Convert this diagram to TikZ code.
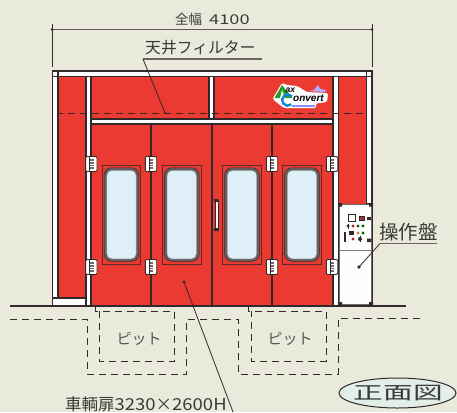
\documentclass[tikz,border=0pt]{standalone}
\usepackage{fontspec}
\setmainfont{Noto Sans CJK JP}
\newfontfamily\logofont{Liberation Sans}
\definecolor{bgc}{HTML}{E9E9DC}
\definecolor{redc}{HTML}{EB3A32}
\definecolor{ink}{HTML}{33292A}
\definecolor{txt}{HTML}{3C3A38}
\definecolor{glass}{HTML}{DFEFF8}
\definecolor{ovalc}{HTML}{E2EEE8}
\tikzset{
  line/.style={draw=ink,line width=1.1pt},
  redp/.style={fill=redc,draw=ink,line width=1.1pt},
  whitep/.style={fill=white,draw=ink,line width=1.1pt},
  lead/.style={draw=ink,line width=0.8pt},
  ulead/.style={draw=ink!70!bgc,line width=1.1pt},
  dashl/.style={draw=ink,line width=0.9pt,dash pattern=on 7pt off 5pt},
  label/.style={text=txt,inner sep=0pt,font=\fontsize{15}{15}\selectfont},
  logotext/.style={inner sep=0pt,anchor=west,text=black},
}
\newcommand{\hingeat}[2]{%
  \draw[fill=white,draw=ink,line width=0.9pt,rounded corners=1.2pt] (#1-5.7,#2-7.5) rectangle (#1+5.7,#2+7.5);
  \draw[draw=ink,line width=0.4pt] (#1-2.2,#2-7.5) -- (#1-2.2,#2+7.5);
  \foreach \d in {-4,-1.3,1.3,4} {\fill[ink!70] (#1-1.2,#2+\d-0.8) rectangle (#1+2.2,#2+\d+0.8);}
}
\newcommand{\windowat}[1]{%
  \draw[draw=ink!80!redc,line width=0.8pt] (#1-19.2,165.3) rectangle (#1+19.2,264.3);
  \draw[fill=ink!75!white,draw=ink,line width=0.5pt,rounded corners=7pt] (#1-17.3,167.8) rectangle (#1+17.3,261.3);
  \draw[fill=glass,draw=ink!40!white,line width=0.4pt,rounded corners=5pt] (#1-14.6,170.5) rectangle (#1+14.6,258.8);
}
\begin{document}
\begin{tikzpicture}[x=1pt,y=-1pt]
\useasboundingbox (0,0) rectangle (457,412);
\clip (0,0) rectangle (457,412);
\fill[bgc] (0,0) rectangle (457,412);

% frame
\draw[whitep] (52.5,71) rectangle (372,306);
\draw[redp] (58,76.5) rectangle (86,298);
\draw[redp] (91,76.5) rectangle (209,119);
\draw[redp] (214,76.5) rectangle (333,119);
\draw[redp] (338.5,76.5) rectangle (366.5,306);
\draw[whitep] (209,76.5) rectangle (214,119);
\draw[whitep] (86,76.5) rectangle (91,306);
\draw[whitep] (333,76.5) rectangle (338.5,306);
\draw[whitep] (366.5,76.5) rectangle (372,204);
\draw[whitep] (52.5,298) rectangle (86,306);
\draw[line] (52.5,71) rectangle (58,76.5);
\draw[line] (366.5,71) rectangle (372,76.5);
\draw[whitep] (91,119) rectangle (333,124);
% doors
\draw[redp] (91,124) rectangle (333,306);
\draw[line] (151,124) -- (151,306);
\draw[line] (212,124) -- (212,306);
\draw[line] (272,124) -- (272,306);
\windowat{121.5}\windowat{181.7}\windowat{242}\windowat{302}
\hingeat{91.3}{164}\hingeat{151}{164}\hingeat{272}{164}\hingeat{332}{164}
\hingeat{91.3}{267}\hingeat{151}{267}\hingeat{272}{267}\hingeat{332}{267}
% handle
\draw[fill=white,draw=ink,line width=0.8pt] (215.5,200) rectangle (218,230);
\fill[ink] (214.2,199) rectangle (218.6,202) (214.2,228) rectangle (218.6,231);
% filter dashed
\draw[dashl,dash phase=2pt] (58,113) -- (366,113);

% logo
\begin{scope}
\fill[white,rounded corners=1.5pt] (282,83) -- (272.5,99) -- (280,105) -- (284,108) -- (316,108) -- (316,103.5) -- (327,102) -- (328,93) -- (307,92) -- (297,86) -- (287,85) -- cycle;
\fill[green!55!black!85!white] (282,85) -- (274.5,98) -- (292,98) -- cycle;
\fill[white] (282,90) -- (280,98) -- (285,98) -- cycle;
\draw[cyan!70!blue,line width=2.4pt] (292,96.5) arc (-40:-310:5.6);
\fill[blue!30!white] (309,91) -- (314,90) -- (318,85) -- (320,89) -- (326,90) -- (324,92) -- cycle;
\node[logotext] (logoa) at (285.5,90) {\logofont\bfseries\itshape\fontsize{8.5}{8.5}\selectfont ax};
\node[logotext] (logob) at (293,98) {\logofont\bfseries\itshape\fontsize{10}{10}\selectfont onvert};
\fill[blue!45!white] (292,104.5) rectangle (315,106.5);
\end{scope}

% control panel
\draw[fill=white!96!bgc,draw=ink!70!white,line width=1.6pt] (339.5,204.5) rectangle (371.5,304.5);
\draw[draw=ink!60!white,line width=0.7pt] (339.5,250) -- (371.5,250);
\fill[ink] (338,203) rectangle (342,206.5) (369,203) rectangle (373,206.5)
           (338,302) rectangle (342,306) (369,302) rectangle (373,306);
\draw[fill=white,draw=ink,line width=0.7pt] (348,214) rectangle (355,221);
\draw[fill=redc!60!ink,draw=ink,line width=0.7pt] (359.5,216) rectangle (364,220.5);
\foreach \x/\c in {348/ink,353/redc!70!black,358/green!40!black,363/green!40!black}{\fill[\c] (\x,226) circle (1.7);}
\draw[line,line width=0.5pt] (348,223.5) -- (348,228.5);
\fill[ink] (348.5,231) rectangle (353.5,235);
\foreach \x/\c in {358/brown,363/green!40!black}{\fill[\c] (\x,233) circle (1.6);}
\fill[ink] (343.5,232) rectangle (345.5,242);
\fill[redc!70!black] (353,239) circle (1.6);
\fill[ink] (360,239) circle (2);
\draw[line,line width=0.5pt] (360,236) -- (360,242);
\fill[ink] (367,217) rectangle (371,220) (367,238.5) rectangle (371,242);

% ground
\draw[line] (10,306) -- (406,306);

% pits
\draw[dashl] (95.5,306) -- (95.5,311) -- (174,311) -- (174,361) -- (99,361) -- (99,311);
\draw[dashl] (248,306) -- (248,311) -- (326,311) -- (326,361) -- (251,361) -- (251,311);
\draw[dashl] (10,319) -- (87,319) -- (87,374) -- (186.5,374) -- (186.5,319) -- (238,319) -- (238,374) -- (338,374) -- (338,318) -- (423,318);
\node[label,text=txt!85!bgc,font=\fontsize{15}{15}\selectfont] (pita) at (139,339) {ピット};
\node[label,text=txt!85!bgc,font=\fontsize{15}{15}\selectfont] (pitb) at (290,339) {ピット};

% dimension
\coordinate (dl) at (52,29.5); \coordinate (dr) at (372,29.5);
\draw[draw=ink!75!bgc,line width=1.1pt] (dl) -- (dr);
\draw[lead] (52,24) -- (52,67);
\draw[lead] (372,24) -- (372,67);
\fill[ink] (dl) circle (1.3) (dr) circle (1.3);
\node[label,anchor=west,font=\fontsize{13.5}{14}\selectfont] (width) at (175,19) {全幅\hspace{7pt}\scalebox{1.35}[1]{4100}};

% filter label
\node[label,anchor=west,font=\fontsize{15.8}{16}\selectfont] (filt) at (145,48) {天井フィルター};
\coordinate (f1) at (262,59); \coordinate (f2) at (143,59); \coordinate (f3) at (165,113);
\draw[ulead] (f1) -- (f2);
\draw[lead] (f2) -- (f3);
\fill[ink] (f3) circle (1.3);

% panel label
\node[label,anchor=west,font=\fontsize{19.5}{20}\selectfont] (op) at (379,232) {操作盤};
\coordinate (o1) at (437,243.5); \coordinate (o2) at (380,243.5); \coordinate (o3) at (359,267);
\draw[ulead] (o1) -- (o2);
\draw[lead] (o2) -- (o3);
\fill[ink] (o3) circle (1.8);

% door label
\coordinate (d1) at (184,282); \coordinate (d2) at (233,412);
\draw[lead] (d1) -- (d2);
\fill[ink] (d1) circle (1.6);
\node[label,anchor=west,font=\fontsize{16.5}{17}\selectfont] (door) at (65,404) {車輌扉\scalebox{1.12}[1]{3230}×\scalebox{1.12}[1]{2600H}};

% view oval
\draw[fill=ovalc,draw=ink,line width=1pt] (397.5,393) ellipse (58.5 and 15);
\node[label,font=\fontsize{18}{18}\selectfont] (view) at (398.5,393) {\scalebox{1.65}[1]{正面図}};
\end{tikzpicture}
\end{document}
